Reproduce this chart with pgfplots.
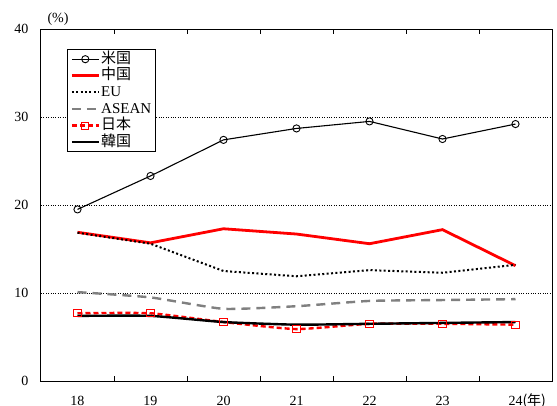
\documentclass[border=0pt]{standalone}
\usepackage{fontspec}
\setmainfont{Liberation Serif}
\newfontfamily\cjk{Noto Sans CJK JP}
\usepackage{pgfplots}
\pgfplotsset{compat=1.18}
\definecolor{asgray}{RGB}{128,128,128}
\begin{document}
\begin{tikzpicture}[x=1pt,y=1pt]
\begin{axis}[
  scale only axis, width=511pt, height=352pt,
  xmin=-0.5, xmax=6.5, ymin=0, ymax=40,
  axis line style={line width=1pt},
  xtick={0.5,1.5,...,5.5}, xticklabels=\empty,
  x tick style={black, line width=0.7pt},
  major tick length=5pt, tick align=inside,
  extra x ticks={0,1,2,3,4,5,6},
  extra x tick labels={18,19,20,21,22,23,{24\rlap{\cjk (年)}}},
  extra x tick style={major tick length=0pt,
    xticklabel style={anchor=base, yshift=-24pt}},
  ytick={0,10,20,30,40},
  y tick style={draw=none},
  yticklabel style={xshift=-9pt},
  ymajorgrids, grid style={black, dotted, line width=0.6pt},
  tick label style={font=\fontsize{14}{14}\selectfont},
  /pgf/number format/assume math mode=true,
  legend style={at={(26/511,331.7/352)}, anchor=north west,
    draw=black, line width=0.8pt, font=\fontsize{15}{15}\selectfont,
    inner xsep=3pt, inner ysep=1.5pt, row sep=0.6pt,
    nodes={inner sep=1pt, text height=11pt, text depth=3pt}},
  legend cell align=left,
  legend image code/.code={%
    \draw[mark repeat=2, mark phase=2, #1]
      plot coordinates {(0pt,0pt) (13.5pt,0pt) (27pt,0pt)};},
  clip=false,
]
% 米国
\addplot[black, line width=1.1pt, mark=o, mark size=3.6pt, mark options={fill=white, line width=0.9pt}]
  coordinates {(0,19.5) (1,23.3) (2,27.4) (3,28.7) (4,29.5) (5,27.5) (6,29.2)};
\addlegendentry{\cjk 米国}
% 中国
\addplot[red, line width=2.8pt, no marks]
  coordinates {(0,16.9) (1,15.7) (2,17.3) (3,16.7) (4,15.6) (5,17.2) (6,13.1)};
\addlegendentry{\cjk 中国}
% EU
\addplot[black, line width=2pt, dash pattern=on 2pt off 2.4pt, no marks]
  coordinates {(0,16.85) (1,15.6) (2,12.5) (3,11.9) (4,12.6) (5,12.3) (6,13.2)};
\addlegendentry{EU}
% ASEAN
\addplot[asgray, line width=2.4pt, dash pattern=on 9pt off 6pt, no marks, smooth, tension=0.3]
  coordinates {(0,10.1) (1,9.5) (2,8.2) (3,8.5) (4,9.1) (5,9.2) (6,9.3)};
\addlegendentry{ASEAN}
% 日本
\addplot[red, line width=2.4pt, dash pattern=on 5pt off 3pt, smooth, tension=0.3,
  mark=square, mark size=3.6pt, mark options={solid, fill=white, line width=0.9pt}]
  coordinates {(0,7.7) (1,7.7) (2,6.7) (3,5.9) (4,6.5) (5,6.5) (6,6.4)};
\addlegendentry{\cjk 日本}
% 韓国
\addplot[black, line width=2.4pt, no marks, smooth, tension=0.3]
  coordinates {(0,7.4) (1,7.4) (2,6.7) (3,6.4) (4,6.5) (5,6.6) (6,6.7)};
\addlegendentry{\cjk 韓国}
\node[font=\fontsize{14}{14}\selectfont] at (rel axis cs:17/511,362/352) {(\%)};
\end{axis}
\pgfresetboundingbox
\useasboundingbox (-41,-24) rectangle (516,381);
\end{tikzpicture}
\end{document}
